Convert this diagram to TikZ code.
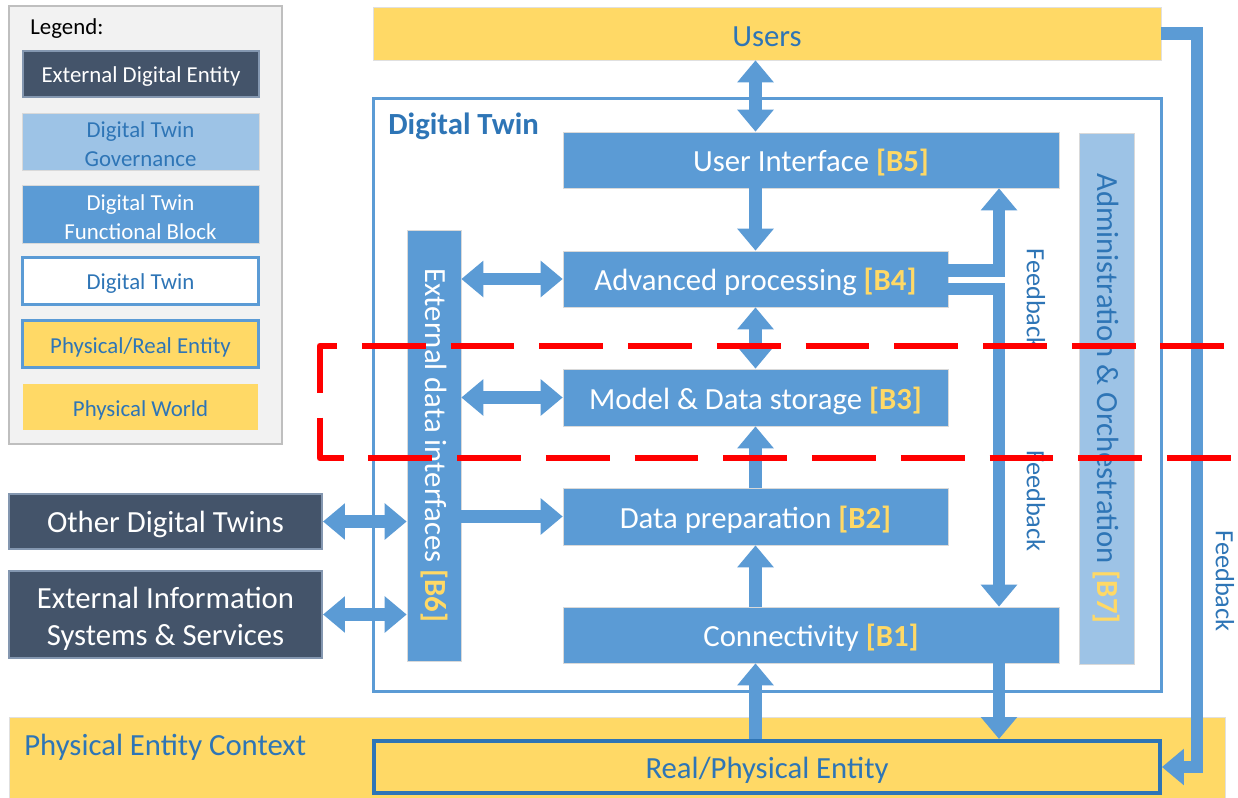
\documentclass[tikz,border=0pt]{standalone}
\usepackage{fontspec}
\setmainfont{Carlito}
\usetikzlibrary{arrows.meta}
\definecolor{gold}{HTML}{FFD966}
\definecolor{blockblue}{HTML}{5B9BD5}
\definecolor{govblue}{HTML}{9DC3E6}
\definecolor{slate}{HTML}{44546A}
\definecolor{slateedge}{HTML}{8497B0}
\definecolor{textblue}{HTML}{2E75B6}
\definecolor{rpeblue}{HTML}{2E75B6}
\definecolor{legendbg}{HTML}{F2F2F2}
\definecolor{legendedge}{HTML}{BFBFBF}
\newcommand{\blkid}[1]{\textbf{\textcolor{gold}{[#1]}}}
\tikzset{
  big/.style={font=\fontsize{17.5}{21}\selectfont},
  small/.style={font=\fontsize{13}{16.4}\selectfont},
  % text placed in the middle of a box, set slightly below the geometric centre
  intext/.style={inner sep=0pt, align=center, yshift=-0.06cm},
  box/.style={rectangle, inner sep=0pt, align=center},
  funcblock/.style={box, fill=blockblue, draw=black!15, line width=0.4pt},
  govblock/.style={box, fill=govblue, draw=black!15, line width=0.4pt},
  extent/.style={box, fill=slate, draw=slateedge, line width=1.2pt},
  twinfill/.style={box, fill=white, outer sep=0pt},
  twinedge/.style={draw=blockblue, line width=1.7pt},
  realent/.style={box, fill=gold, draw=rpeblue, line width=2.3pt},
  world/.style={box, fill=gold},
  flow/.style={draw=blockblue, line width=7pt, -{Triangle[width=20pt,length=12.5pt]}},
  biflow/.style={draw=blockblue, line width=7pt,
    {Triangle[width=20pt,length=12.5pt]}-{Triangle[width=20pt,length=12.5pt]}},
  fblabel/.style={font=\fontsize{15}{18}\selectfont, text=textblue, rotate=-90, inner sep=0pt},
  reddash/.style={draw=red, line width=3.8pt, dash pattern=on 36.3pt off 14.2pt, line join=round}
}
\begin{document}
\begin{tikzpicture}[x=0.02cm, y=-0.02cm]
\useasboundingbox (0,0) rectangle (1238,798);

% physical world strip
\node[world, draw=black!12, line width=0.4pt, minimum width=24.32cm, minimum height=1.62cm] (pec) at (617,757.5) {};
\node[big, text=textblue, anchor=west, inner sep=0pt] (pectext) at (24,747) {Physical Entity Context};

% legend
\node[box, fill=legendbg, draw=legendedge, line width=0.8pt, minimum width=5.46cm, minimum height=8.76cm] (legend) at (145.5,225) {};
\node[small, anchor=west, inner sep=0pt] (legendtitle) at (30,28.5) {Legend:};
\node[extent, minimum width=4.72cm, minimum height=0.92cm,
  label={[intext, small, text=white]center:External Digital Entity}] (lg1) at (141,74) {};
\node[govblock, minimum width=4.74cm, minimum height=1.14cm,
  label={[intext, small, text=textblue]center:Digital Twin\\Governance}] (lg2) at (140.5,141.5) {};
\node[funcblock, minimum width=4.74cm, minimum height=1.16cm,
  label={[intext, small, text=white]center:Digital Twin\\Functional Block}] (lg3) at (140.5,214) {};
\node[box, fill=white, draw=blockblue, line width=1.7pt, minimum width=4.72cm, minimum height=0.94cm,
  label={[intext, small, text=textblue]center:Digital Twin}] (lg4) at (140.5,281) {};
\node[box, fill=gold, draw=blockblue, line width=1.7pt, minimum width=4.72cm, minimum height=0.94cm,
  label={[intext, small, text=textblue]center:Physical/Real Entity}] (lg5) at (140.5,344) {};
\node[world, minimum width=4.70cm, minimum height=0.92cm,
  label={[intext, small, text=textblue]center:Physical World}] (lg6) at (140.5,407) {};

% users
\node[world, draw=black!12, line width=0.4pt, minimum width=15.76cm, minimum height=1.06cm,
  label={[intext, big, text=textblue]center:Users}] (users) at (767,33.5) {};

% digital twin frame (fill only; the outline is stroked after the arrows)
\node[twinfill, minimum width=15.76cm, minimum height=11.86cm] (dt) at (767.5,395) {};
\node[font=\fontsize{17.5}{21}\selectfont\bfseries, text=textblue, anchor=west, inner sep=0pt] (dtlabel) at (388,126) {Digital Twin};

% functional blocks
\node[funcblock, minimum width=9.92cm, minimum height=1.12cm,
  label={[intext, big, text=white]center:User Interface \blkid{B5}}] (b5) at (811,160) {};
\node[funcblock, minimum width=7.70cm, minimum height=1.12cm,
  label={[intext, big, text=white]center:Advanced processing \blkid{B4}}] (b4) at (755.5,279) {};
\node[funcblock, minimum width=7.70cm, minimum height=1.14cm,
  label={[intext, big, text=white]center:Model \& Data storage \blkid{B3}}] (b3) at (755.5,397.5) {};
\node[funcblock, minimum width=7.70cm, minimum height=1.14cm,
  label={[intext, big, text=white]center:Data preparation \blkid{B2}}] (b2) at (755.5,516.5) {};
\node[funcblock, minimum width=9.92cm, minimum height=1.12cm,
  label={[intext, big, text=white]center:Connectivity \blkid{B1}}] (b1) at (811,635) {};
\node[funcblock, minimum width=1.08cm, minimum height=8.62cm] (b6) at (434,445.5) {};
\node[big, text=white, rotate=-90, inner sep=0pt] (b6text) at (b6.center) {External data interfaces \blkid{B6}};
\node[govblock, minimum width=1.10cm, minimum height=10.62cm] (b7) at (1106.5,398.5) {};
\node[big, text=textblue, rotate=-90, inner sep=0pt] (b7text) at (b7.center) {Administration \& Orchestration \blkid{B7}};

% external digital entities
\node[extent, minimum width=6.26cm, minimum height=1.10cm,
  label={[intext, big, text=white]center:Other Digital Twins}] (odt) at (165.5,521.5) {};
\node[extent, minimum width=6.26cm, minimum height=1.74cm,
  label={[intext, big, text=white, yshift=-0.02cm]center:External Information\\Systems \& Services}] (eis) at (165.5,614.5) {};

% real / physical entity
\node[realent, minimum width=15.72cm, minimum height=1.04cm,
  label={[intext, big, text=textblue]center:Real/Physical Entity}] (rpe) at (767,767) {};

% vertical line used by the feedback paths
\coordinate (fbx) at (999,0);

% data flows
\draw[biflow] (users.south -| b4.north) -- (b5.north -| b4.north);
\draw[flow] (b5.south -| b4.north) -- (b4.north);
\draw[biflow] (b4.south) -- (b3.north);
\draw[flow] (b2.north) -- (b3.south);
\draw[flow] (b1.north -| b2.south) -- (b2.south);
\draw[flow] (rpe.north -| b2.south) -- (b1.south -| b2.south);
\draw[biflow] (b6.east |- b4.west) -- (b4.west);
\draw[biflow] (b6.east |- b3.west) -- (b3.west);
\draw[flow] (b6.east |- b2.west) -- (b2.west);
\draw[biflow] (odt.east) -- (odt.east -| b6.west);
\draw[biflow] (eis.east) -- (eis.east -| b6.west);

% feedback paths
\draw[flow] ([yshift=0.17cm]b4.east) -| (b5.south -| fbx);
\draw[flow] ([yshift=-0.2cm]b4.east) -| (b1.north -| fbx);
\draw[flow] (b1.south -| fbx) -- (rpe.north -| fbx);
\draw[flow] (users.east) -- ++(36,0) |- (rpe.east);

\node[fblabel] (fb1) at (1036,299) {Feedback};
\node[fblabel] (fb2) at (1036,501) {Feedback};
\node[fblabel] (fb3) at (1225,581) {Feedback};

% digital twin outline
\draw[twinedge] (dt.north west) rectangle (dt.south east);

% dashed boundary band
\draw[reddash] (337,346) -- (320,346) -- (320,458) -- (1238,458);
\draw[reddash, dash phase=36.3pt] (337,346) -- (1238,346);
\end{tikzpicture}
\end{document}
